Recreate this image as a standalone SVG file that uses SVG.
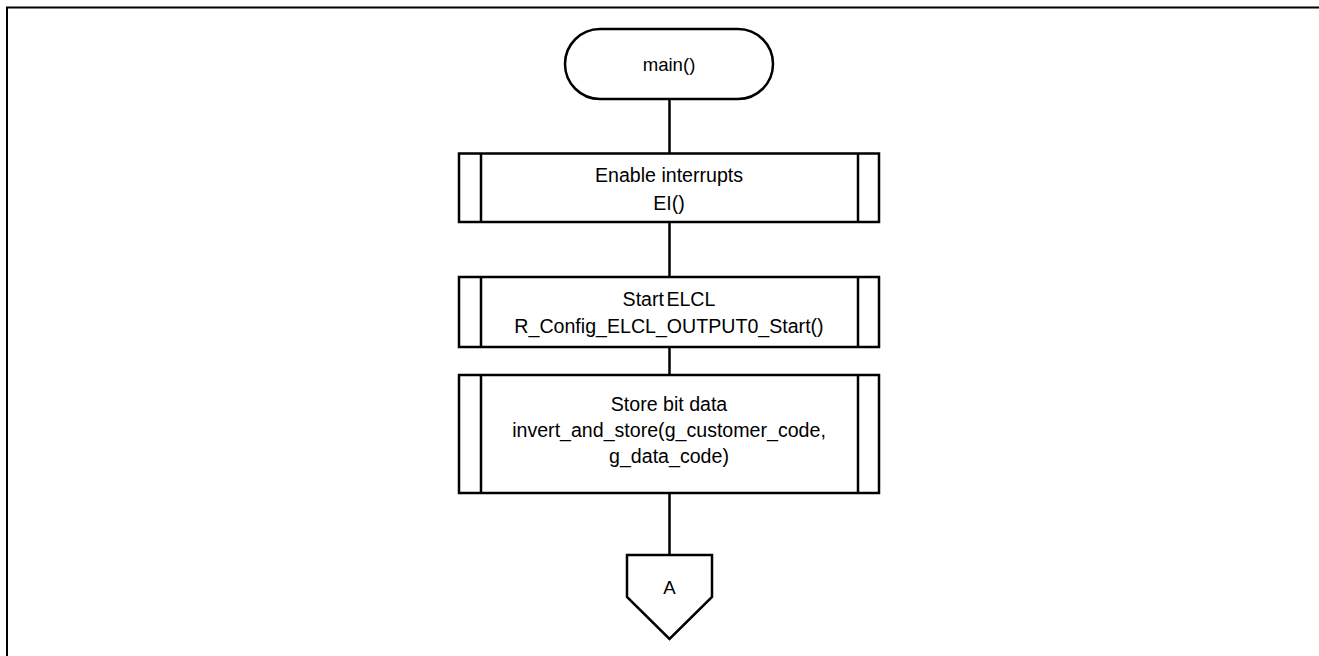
<svg xmlns="http://www.w3.org/2000/svg" width="1319" height="656" viewBox="0 0 1319 656">
  <style>
    .shape { fill: #ffffff; stroke: #000000; stroke-width: 2.5; }
    .bar { fill: none; stroke: #000000; stroke-width: 2.5; }
    .wire { fill: none; stroke: #000000; stroke-width: 2.5; }
    .frame { fill: none; stroke: #000000; stroke-width: 2; }
    .label { font-family: "Liberation Sans", Arial, sans-serif; font-size: 19.6px; fill: #000000; text-anchor: middle; }
    .small { font-size: 18.6px; }
  </style>
  <rect width="1319" height="656" fill="#ffffff"/>
  <!-- outer frame: top and left edges only -->
  <path class="frame" d="M7 656 V7.5 H1319"/>

  <g id="connectors">
    <line class="wire" x1="669.5" y1="99" x2="669.5" y2="153.5"/>
    <line class="wire" x1="669.5" y1="222" x2="669.5" y2="277"/>
    <line class="wire" x1="669.5" y1="347" x2="669.5" y2="375"/>
    <line class="wire" x1="669.5" y1="493" x2="669.5" y2="555"/>
  </g>

  <g id="start">
    <rect class="shape" x="565" y="29" width="208" height="70" rx="35" ry="35"/>
    <text class="label small" x="669" y="71">main()</text>
  </g>

  <g id="enable-interrupts">
    <rect class="shape" x="459" y="153.5" width="420" height="68.5"/>
    <line class="bar" x1="481" y1="153.5" x2="481" y2="222"/>
    <line class="bar" x1="858" y1="153.5" x2="858" y2="222"/>
    <text class="label" x="669" y="182">Enable interrupts</text>
    <text class="label" x="669" y="210">EI()</text>
  </g>

  <g id="start-elcl">
    <rect class="shape" x="459" y="277" width="420" height="70"/>
    <line class="bar" x1="481" y1="277" x2="481" y2="347"/>
    <line class="bar" x1="858" y1="277" x2="858" y2="347"/>
    <text class="label" x="669" y="306" word-spacing="-3">Start ELCL</text>
    <text class="label" x="669" y="333">R_Config_ELCL_OUTPUT0_Start()</text>
  </g>

  <g id="store-bit-data">
    <rect class="shape" x="459" y="375" width="420" height="118"/>
    <line class="bar" x1="481" y1="375" x2="481" y2="493"/>
    <line class="bar" x1="858" y1="375" x2="858" y2="493"/>
    <text class="label" x="669" y="411">Store bit data</text>
    <text class="label" x="669" y="437">invert_and_store(g_customer_code,</text>
    <text class="label" x="669" y="463">g_data_code)</text>
  </g>

  <g id="offpage-a">
    <polygon class="shape" points="627,555 712,555 712,597 669.5,639 627,597"/>
    <text class="label small" x="669.5" y="594">A</text>
  </g>
</svg>
